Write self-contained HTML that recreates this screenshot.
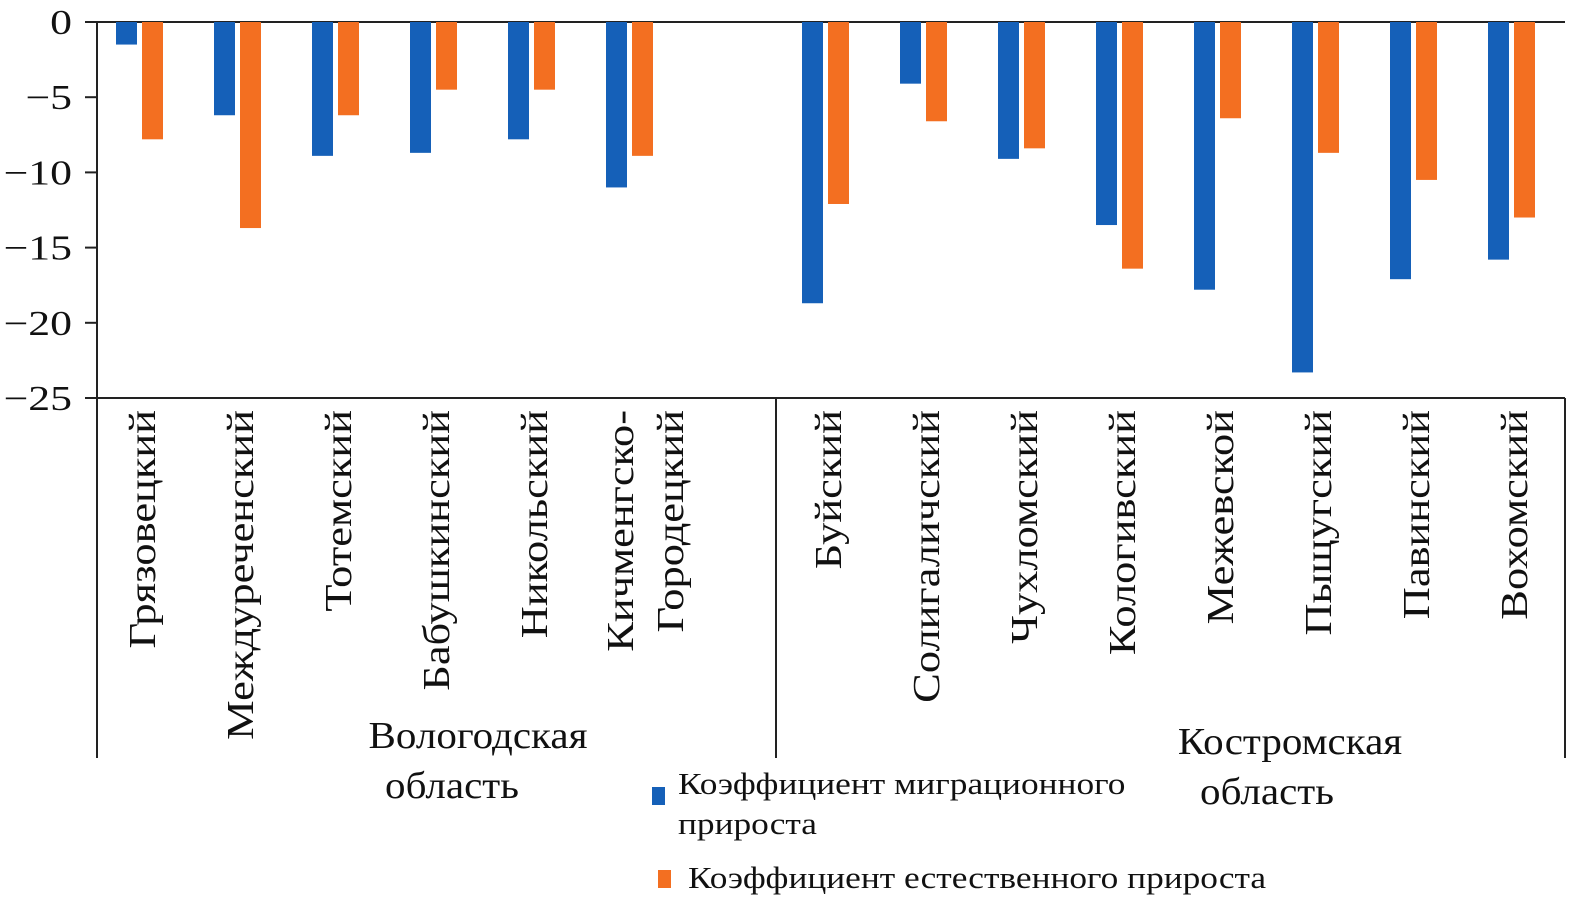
<!DOCTYPE html>
<html><head><meta charset="utf-8">
<style>
html,body{margin:0;padding:0;background:#fff;}
svg text{font-family:"Liberation Serif","DejaVu Serif",serif;fill:#111;}
</style></head>
<body>
<svg id="chart" width="1572" height="901" viewBox="0 0 1572 901" xmlns="http://www.w3.org/2000/svg">
<g id="grid"></g>
<g id="bars"></g>
<g id="labels"></g>
<text transform="translate(478,748) scale(1.08,1)" font-size="38" text-anchor="middle">Вологодская</text>
<text transform="translate(452,798) scale(1.08,1)" font-size="38" text-anchor="middle">область</text>
<text transform="translate(1290,754) scale(1.08,1)" font-size="38" text-anchor="middle">Костромская</text>
<text transform="translate(1267,804) scale(1.08,1)" font-size="38" text-anchor="middle">область</text>
<g>
<rect x="652" y="787" width="13" height="18" fill="#1560b8"/>
<text transform="translate(678,794) scale(1.14,1)" font-size="31">Коэффициент миграционного</text>
<text transform="translate(678,834) scale(1.14,1)" font-size="31">прироста</text>
<rect x="658" y="870" width="13" height="18" fill="#f36f21"/>
<text transform="translate(688,888) scale(1.14,1)" font-size="31">Коэффициент естественного прироста</text>
</g>
</svg>
<script>
const categories=[["Грязовецкий"],["Междуреченский"],["Тотемский"],["Бабушкинский"],["Никольский"],["Кичменгско-","Городецкий"],["Буйский"],["Солигаличский"],["Чухломский"],["Кологивский"],["Межевской"],["Пыщугский"],["Павинский"],["Вохомский"]];
const slotIndex=[0,1,2,3,4,5,7,8,9,10,11,12,13,14];
const migration=[-1.5,-6.2,-8.9,-8.7,-7.8,-11,-18.7,-4.1,-9.1,-13.5,-17.8,-23.3,-17.1,-15.8];
const natural=[-7.8,-13.7,-6.2,-4.5,-4.5,-8.9,-12.1,-6.6,-8.4,-16.4,-6.4,-8.7,-10.5,-13.0];
const yTicks=[0,-5,-10,-15,-20,-25];
const yTickLabels=["0","−5","−10","−15","−20","−25"];
const NS="http://www.w3.org/2000/svg";
const y=v=>22+(-v)*15.04;
const x=i=>140+98*i;
function mk(t,a,p){const e=document.createElementNS(NS,t);for(const k in a)e.setAttribute(k,a[k]);p.appendChild(e);return e;}
const grid=document.getElementById('grid'),bars=document.getElementById('bars'),labels=document.getElementById('labels');
let l=mk('line',{x1:97,y1:22,x2:97,y2:398,stroke:'#222','stroke-width':2},grid);

l=mk('line',{x1:97,y1:22,x2:1565,y2:22,stroke:'#222','stroke-width':2},grid);

l=mk('line',{x1:85,y1:398,x2:1565,y2:398,stroke:'#222','stroke-width':2},grid);

[97,776,1565].forEach(xx=>{const s=mk('line',{x1:xx,y1:398,x2:xx,y2:758,stroke:'#222','stroke-width':2},grid);
});
yTicks.forEach((v,i)=>{const t=mk('line',{x1:85,y1:y(v),x2:97,y2:y(v),stroke:'#222','stroke-width':2},grid);

const tx=mk('text',{transform:`translate(72,${y(v)+12}) scale(1.25,1)`,'font-size':35,'text-anchor':'end'},grid);tx.textContent=yTickLabels[i];
});
categories.forEach((c,i)=>{const cx=x(slotIndex[i]);
const b=mk('rect',{x:cx-24,y:y(0),width:21,height:y(migration[i])-y(0),fill:'#1560b8'},bars);

const o=mk('rect',{x:cx+2,y:y(0),width:21,height:y(natural[i])-y(0),fill:'#f36f21'},bars);

c.forEach((line,j)=>{const bx=c.length>1?cx+3+j*50:cx+15;
const t=mk('text',{transform:`translate(${bx},410) rotate(-90) scale(1.17,1)`,'font-size':38,'text-anchor':'end'},labels);
t.textContent=line;});
});
</script>
</body></html>
